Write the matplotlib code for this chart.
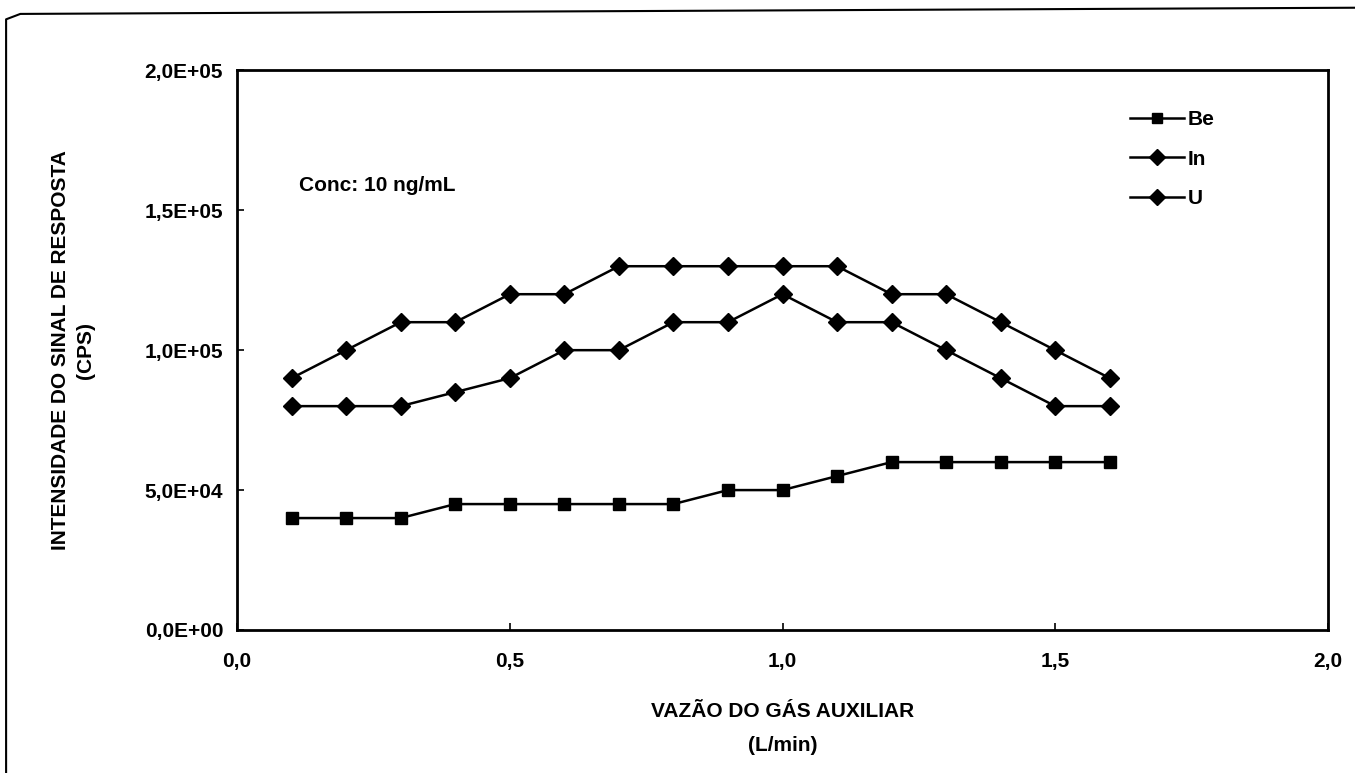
import numpy as np
import matplotlib.pyplot as plt
from matplotlib.lines import Line2D

plt.rcParams['font.family'] = 'Liberation Sans'
plt.rcParams['font.weight'] = 'bold'

# vazão do gás auxiliar (L/min)
vazao = [0.1, 0.2, 0.3, 0.4, 0.5, 0.6, 0.7, 0.8, 0.9, 1.0, 1.1, 1.2, 1.3, 1.4, 1.5, 1.6]
# intensidade (CPS)
be = [40000, 40000, 40000, 45000, 45000, 45000, 45000, 45000, 50000, 50000, 55000, 60000, 60000, 60000, 60000, 60000]
in_ = [80000, 80000, 80000, 85000, 90000, 100000, 100000, 110000, 110000, 120000, 110000, 110000, 100000, 90000, 80000, 80000]
u = [90000, 100000, 110000, 110000, 120000, 120000, 130000, 130000, 130000, 130000, 130000, 120000, 120000, 110000, 100000, 90000]

xticks = [0.0, 0.5, 1.0, 1.5, 2.0]
xticklabels = ['0,0', '0,5', '1,0', '1,5', '2,0']
yticks = [0, 50000, 100000, 150000, 200000]
yticklabels = ['0,0E+00', '5,0E+04', '1,0E+05', '1,5E+05', '2,0E+05']

fig = plt.figure(figsize=(13.55, 7.73), dpi=100)
ax = fig.add_axes([0.175, 0.185, 0.805, 0.724])

ax.plot(vazao, be, color='black', lw=1.8, marker='s', ms=8.5, label='Be')
ax.plot(vazao, in_, color='black', lw=1.8, marker='D', ms=9, label='In')
ax.plot(vazao, u, color='black', lw=1.8, marker='D', ms=9, label='U')

ax.set_xlim(0, 2.0)
ax.set_ylim(0, 200000)
ax.set_xticks(xticks)
ax.set_xticklabels(xticklabels)
ax.set_yticks(yticks)
ax.set_yticklabels(yticklabels)
ax.tick_params(direction='in', length=5, width=1.2, labelsize=15, pad=10)
ax.tick_params(axis='x', pad=16)
for sp in ax.spines.values():
    sp.set_linewidth(2)

ax.set_xlabel('VAZÃO DO GÁS AUXILIAR\n(L/min)', fontsize=15, fontweight='bold',
              labelpad=22, linespacing=2.0)
ax.set_ylabel('INTENSIDADE DO SINAL DE RESPOSTA\n(CPS)', fontsize=15, fontweight='bold',
              labelpad=36, linespacing=1.4)

ax.text(0.057, 0.795, 'Conc: 10 ng/mL', transform=ax.transAxes, fontsize=15,
        fontweight='bold', va='center')

ax.legend(loc='upper right', bbox_to_anchor=(0.913, 0.963), frameon=False,
          fontsize=15, handlelength=2.6, labelspacing=1.0, handletextpad=0.15,
          markerscale=0.85)

# moldura externa
fig.add_artist(Line2D([0.0045, 0.0045, 0.015, 1.0], [0.0, 0.975, 0.982, 0.99],
                      transform=fig.transFigure, color='black', lw=1.5))

fig.savefig('out.png', dpi=100)
